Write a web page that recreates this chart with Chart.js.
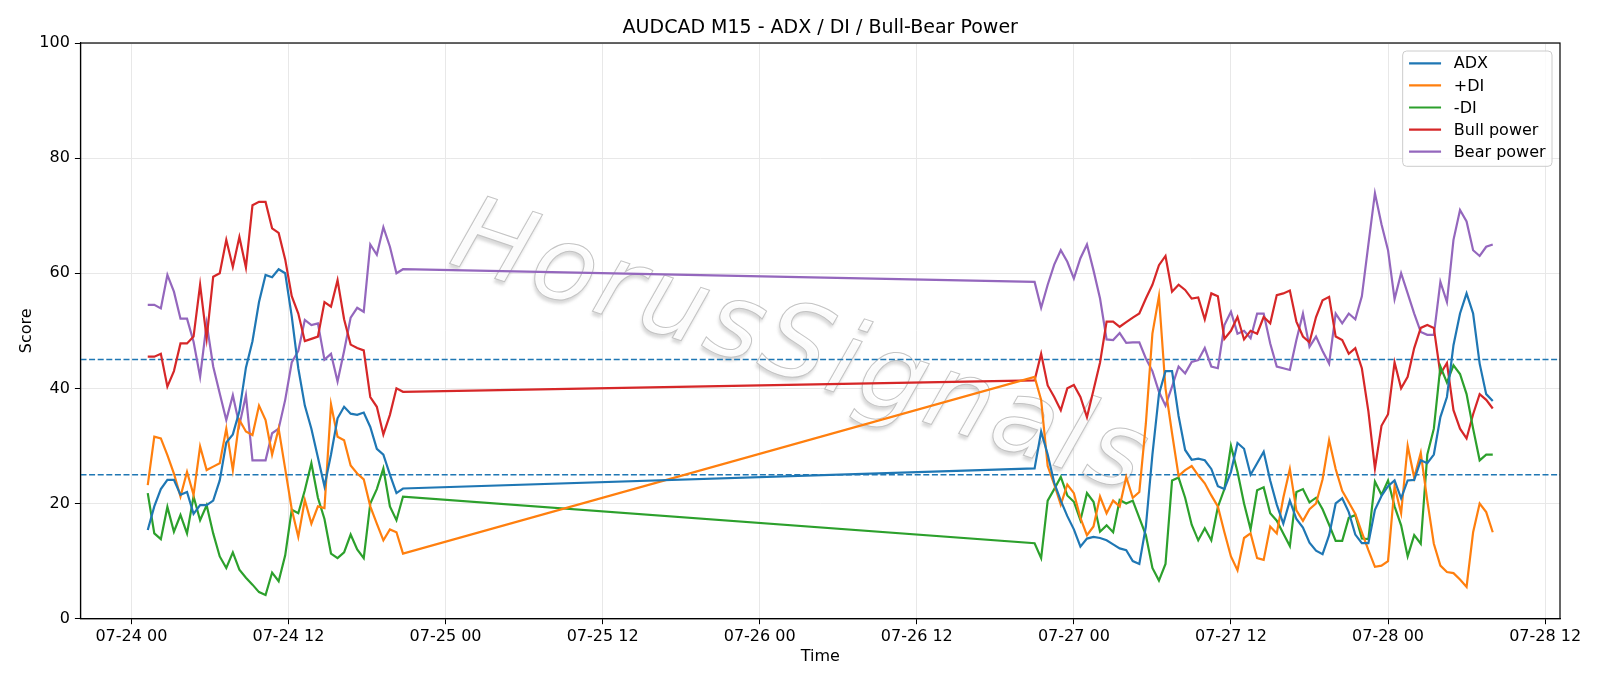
<!DOCTYPE html>
<html>
<head>
<meta charset="utf-8">
<script src="https://cdn.jsdelivr.net/npm/chart.js@4.4.1/dist/chart.umd.min.js"></script>
<style>
  html, body { margin: 0; padding: 0; background: #fff; }
  #wrap { width: 1600px; height: 686px; }
</style>
</head>
<body>
<div id="wrap"><canvas id="adxChart" width="1600" height="686"></canvas></div>
<script>
// hours counted from 07-24 00:00 (30 min samples, weekend gap in between)
const times = [
  1.25, 1.75, 2.25, 2.75, 3.25, 3.75, 4.25, 4.75, 5.25, 5.75,
  6.25, 6.75, 7.25, 7.75, 8.25, 8.75, 9.25, 9.75, 10.25, 10.75,
  11.25, 11.75, 12.25, 12.75, 13.25, 13.75, 14.25, 14.75, 15.25, 15.75,
  16.25, 16.75, 17.25, 17.75, 18.25, 18.75, 19.25, 19.75, 20.25, 20.75,
  69.0, 69.5, 70.0, 70.5, 71.0, 71.5, 72.0, 72.5, 73.0, 73.5,
  74.0, 74.5, 75.0, 75.5, 76.0, 76.5, 77.0, 77.5, 78.0, 78.5,
  79.0, 79.5, 80.0, 80.5, 81.0, 81.5, 82.0, 82.5, 83.0, 83.5,
  84.0, 84.5, 85.0, 85.5, 86.0, 86.5, 87.0, 87.5, 88.0, 88.5,
  89.0, 89.5, 90.0, 90.5, 91.0, 91.5, 92.0, 92.5, 93.0, 93.5,
  94.0, 94.5, 95.0, 95.5, 96.0, 96.5, 97.0, 97.5, 98.0, 98.5,
  99.0, 99.5, 100.0, 100.5, 101.0, 101.5, 102.0, 102.5, 103.0, 103.5,
  104.0
];

const adx = [
  15.4, 19.5, 22.5, 24.1, 24.1, 21.5, 22, 18.2, 19.7, 19.7,
  20.5, 24, 30.6, 32, 36, 43.6, 48.2, 55, 59.7, 59.3,
  60.7, 60, 52.5, 43.5, 37, 33, 28, 23, 28.5, 34.8,
  36.8, 35.6, 35.4, 35.8, 33.3, 29.5, 28.5, 25, 21.8, 22.6,
  26.1, 32.5, 28.5, 23.6, 20.5, 17.8, 15.5, 12.5, 13.9, 14.2,
  14, 13.6, 12.9, 12.2, 11.9, 10, 9.5, 16, 28.5, 39,
  43, 43, 35.2, 29.3, 27.6, 27.8, 27.5, 26, 23, 22.5,
  25.5, 30.5, 29.5, 25, 27, 29, 24, 19.8, 16.5, 20.5,
  17.3, 15.8, 13.2, 11.8, 11.2, 14.5, 20, 20.9, 18.5, 14.6,
  13.1, 13.1, 18.9, 21.3, 23, 24, 20.9, 24, 24.1, 27.5,
  27, 28.5, 35, 38.5, 47.5, 53, 56.5, 53, 44.3, 39,
  37.8
];

const plusDI = [
  23.2, 31.6, 31.3, 28.4, 25.2, 21.2, 25.5, 21.5, 29.9, 25.8,
  26.4, 27, 33, 25.8, 34.5, 32.5, 31.9, 37, 34.5, 28.5,
  33, 26, 19, 14.2, 20.6, 16.5, 19.5, 19.2, 37.2, 31.6,
  31, 26.6, 25.2, 24.2, 19.5, 16.5, 13.6, 15.5, 15, 11.3,
  42, 38, 26.5, 23.3, 19.8, 23.3, 21.8, 17.5, 14.5, 16,
  21.2, 18.3, 20.5, 19.5, 24.6, 21, 22, 33.9, 49.5, 56,
  40, 32.2, 24.8, 25.8, 26.5, 24.9, 23.5, 21.4, 19.5, 15,
  10.8, 8.4, 14, 14.8, 10.5, 10.2, 16, 14.8, 21, 26,
  18.8, 17, 19, 20, 24.2, 31, 26, 22.2, 20.2, 18.2,
  15, 11.9, 9, 9.2, 10, 23, 18.3, 30, 24.5, 28.8,
  20.5, 13, 9.2, 8.1, 7.9, 6.8, 5.5, 15, 20, 18.5,
  15
];

const minusDI = [
  21.8, 14.8, 13.8, 19.4, 15.1, 18, 14.8, 21.2, 17.1, 19.7,
  14.8, 10.8, 8.8, 11.5, 8.5, 7.1, 5.9, 4.6, 4.1, 8,
  6.5, 11, 18.9, 18.3, 22.3, 27, 21, 17.3, 11.3, 10.5,
  11.5, 14.6, 12, 10.5, 20, 22.5, 26.1, 19.5, 17.1, 21.2,
  13.1, 10.5, 20.5, 22.5, 24.6, 21.4, 20.3, 17.1, 21.8, 20.3,
  15.1, 16.2, 15, 20.6, 20, 20.5, 17.5, 14.5, 8.8, 6.6,
  9.5, 24, 24.5, 21, 16.3, 13.6, 15.7, 13.6, 19.4, 22.5,
  30, 25.5, 20, 15.5, 22.3, 22.8, 18.3, 17, 14.8, 12.6,
  22, 22.5, 20.2, 21, 19, 16.3, 13.5, 13.5, 17.5, 18,
  13.9, 13.8, 23.8, 21.5, 24, 19.5, 16.2, 10.8, 14.5, 13,
  28.5, 33, 43.8, 41, 44, 42.5, 39, 33, 27.5, 28.5,
  28.5
];

const bullPower = [
  45.5, 45.5, 46, 40.3, 43, 47.8, 47.8, 49, 58, 48.7,
  59.4, 60, 65.8, 61.1, 66.3, 61, 71.8, 72.4, 72.4, 67.8,
  67, 62.4, 56, 53, 48.2, 48.6, 49, 55, 54.2, 58.8,
  52, 47.6, 47, 46.6, 38.5, 36.8, 32, 35.4, 40, 39.4,
  41.4, 46, 40.5, 38.5, 36.2, 40, 40.6, 38.5, 35, 39.7,
  44.5, 51.6, 51.6, 50.7, 51.5, 52.3, 53, 55.6, 58, 61.4,
  63, 56.8, 58, 57.1, 55.6, 55.8, 52, 56.5, 56, 48.6,
  50, 52.4, 48.5, 50, 49.5, 52.4, 51.3, 56.2, 56.5, 57,
  51.6, 49, 48, 52.4, 55.3, 55.9, 49, 48.4, 46, 47,
  43.5, 36, 26.1, 33.5, 35.5, 44.5, 40, 42, 47, 50.5,
  51, 50.5, 42.5, 44.4, 36.2, 33, 31.3, 35.5, 39, 38,
  36.5
];

const bearPower = [
  54.5, 54.5, 53.9, 59.7, 56.8, 52.1, 52.1, 48.1, 42, 51.3,
  43.8, 39.1, 34.5, 38.8, 33.6, 38.8, 27.5, 27.5, 27.5, 32.2,
  33, 38, 44.5, 46.5, 51.9, 51, 51.3, 45, 46, 41.2,
  46.5, 52.3, 54, 53.3, 65, 63.2, 68, 64.6, 60, 60.7,
  58.5, 54, 58, 61.5, 64, 62, 59.1, 62.6, 65, 60.5,
  55.6, 48.5, 48.4, 49.6, 47.9, 48, 48, 45.2, 43, 39.4,
  37, 40.3, 43.8, 42.6, 44.6, 44.9, 47, 43.8, 43.5, 51,
  53.3, 49.5, 50, 48.7, 53, 53, 47.8, 43.8, 43.5, 43.2,
  48.4, 53, 47.2, 49, 46.5, 44.3, 53, 51.3, 53, 52,
  56, 65, 73.9, 68.5, 64, 55.5, 60, 56.5, 53, 49.8,
  49.3, 49.3, 58.5, 55, 65.8, 71, 69, 64, 63, 64.6,
  65
];

const levels = [25, 45];
const xTicks = [0, 12, 24, 36, 48, 60, 72, 84, 96, 108];

const FONT = 'DejaVu Sans';
Chart.defaults.font.family = FONT;
Chart.defaults.color = '#000';

// matplotlib style 5% margin on x
const span = times[times.length - 1] - times[0];
const xMin = times[0] - 0.05 * span;
const xMax = times[times.length - 1] + 0.05 * span;

function pts(vals) {
  return times.map((t, i) => ({ x: t, y: vals[i] }));
}

function fmtTime(h) {
  const day = 24 + Math.floor(h / 24);
  const hr = h % 24;
  return '07-' + day + ' ' + String(hr).padStart(2, '0');
}

const series = [
  { label: 'ADX', values: adx, color: '#1f77b4' },
  { label: '+DI', values: plusDI, color: '#ff7f0e' },
  { label: '-DI', values: minusDI, color: '#2ca02c' },
  { label: 'Bull power', values: bullPower, color: '#d62728' },
  { label: 'Bear power', values: bearPower, color: '#9467bd' }
];

const levelLines = {
  id: 'levelLines',
  beforeDatasetsDraw(chart) {
    const { ctx, chartArea, scales } = chart;
    ctx.save();
    ctx.strokeStyle = '#1f77b4';
    ctx.lineWidth = 1.5;
    ctx.setLineDash([6, 2.6]);
    levels.forEach(v => {
      const y = scales.y.getPixelForValue(v);
      ctx.beginPath();
      ctx.moveTo(chartArea.left, y);
      ctx.lineTo(chartArea.right, y);
      ctx.stroke();
    });
    ctx.restore();
  }
};

// watermark text, drawn under the lines
const watermark = {
  id: 'watermark',
  beforeDatasetsDraw(chart) {
    const { ctx } = chart;
    const text = 'HorusSignals';
    ctx.save();
    ctx.translate(800, 352);
    ctx.rotate(18.5 * Math.PI / 180);
    ctx.font = 'oblique 104px "' + FONT + '"';
    ctx.letterSpacing = '4px';
    ctx.textAlign = 'center';
    ctx.textBaseline = 'middle';
    ctx.save();
    ctx.filter = 'blur(1.5px)';
    ctx.fillStyle = 'rgba(120,120,120,0.28)';
    ctx.fillText(text, 0, 4);
    ctx.restore();
    ctx.fillStyle = 'rgba(255,255,255,0.88)';
    ctx.fillText(text, 0, 0);
    ctx.strokeStyle = 'rgba(190,190,190,0.9)';
    ctx.lineWidth = 1;
    ctx.strokeText(text, 0, 0);
    ctx.restore();
  }
};

const frameAndText = {
  id: 'frameAndText',
  afterDraw(chart) {
    const { ctx, chartArea: a } = chart;
    ctx.save();
    // spines
    ctx.strokeStyle = '#000';
    ctx.lineWidth = 1.2;
    ctx.strokeRect(a.left, a.top, a.right - a.left, a.bottom - a.top);

    // title
    ctx.fillStyle = '#000';
    ctx.font = '19px "' + FONT + '"';
    ctx.textAlign = 'center';
    ctx.textBaseline = 'alphabetic';
    ctx.fillText('AUDCAD M15 - ADX / DI / Bull-Bear Power', (a.left + a.right) / 2, a.top - 10);

    // legend
    const fs = 16, rowH = 22.1, pad = 6.4, handle = 32, gap = 12.8;
    ctx.font = fs + 'px "' + FONT + '"';
    const textW = Math.max(...series.map(s => ctx.measureText(s.label).width));
    const w = pad + handle + gap + textW + pad;
    const h = pad * 2 + rowH * series.length - 8;
    const x0 = a.right - 8 - w;
    const y0 = a.top + 8;
    ctx.fillStyle = 'rgba(255,255,255,0.8)';
    ctx.strokeStyle = '#cccccc';
    ctx.lineWidth = 1;
    ctx.beginPath();
    ctx.roundRect(x0, y0, w, h, 4);
    ctx.fill();
    ctx.stroke();
    ctx.textAlign = 'left';
    ctx.textBaseline = 'middle';
    series.forEach((s, i) => {
      const cy = y0 + 12.3 + i * rowH;
      ctx.strokeStyle = s.color;
      ctx.lineWidth = 2.2;
      ctx.beginPath();
      ctx.moveTo(x0 + pad, cy);
      ctx.lineTo(x0 + pad + handle, cy);
      ctx.stroke();
      ctx.fillStyle = '#000';
      ctx.fillText(s.label, x0 + pad + handle + gap, cy + 1);
    });
    ctx.restore();
  }
};

const ctx = document.getElementById('adxChart').getContext('2d');
const chart = new Chart(ctx, {
  type: 'line',
  data: {
    datasets: series.map(s => ({
      label: s.label,
      data: pts(s.values),
      borderColor: s.color,
      backgroundColor: s.color,
      borderWidth: 2.2,
      pointRadius: 0,
      tension: 0,
      fill: false
    }))
  },
  options: {
    responsive: false,
    animation: false,
    devicePixelRatio: 1,
    layout: { padding: { left: 0, right: 40, top: 43, bottom: 0 } },
    plugins: {
      legend: { display: false },
      title: { display: false },
      tooltip: { enabled: false }
    },
    scales: {
      x: {
        type: 'linear',
        min: xMin,
        max: xMax,
        afterBuildTicks: scale => { scale.ticks = xTicks.map(v => ({ value: v })); },
        afterFit: scale => { scale.height = 67.4; },
        ticks: {
          callback: v => fmtTime(v),
          font: { size: 16 },
          color: '#000',
          maxRotation: 0,
          autoSkip: false,
          padding: 3
        },
        grid: { color: '#e8e8e8', lineWidth: 1, tickColor: '#000', tickLength: 5.6 },
        border: { color: '#000', width: 1.2 },
        title: { display: true, text: 'Time', font: { size: 16 }, color: '#000', padding: { top: 0, bottom: 20 } }
      },
      y: {
        min: 0,
        max: 100,
        afterFit: scale => { scale.width = 80.5; },
        ticks: { stepSize: 20, font: { size: 16 }, color: '#000', padding: 5 },
        grid: { color: '#e8e8e8', lineWidth: 1, tickColor: '#000', tickLength: 5.6 },
        border: { color: '#000', width: 1.2 },
        title: { display: true, text: 'Score', font: { size: 16 }, color: '#000', padding: { top: 17, bottom: 0 } }
      }
    }
  },
  plugins: [watermark, levelLines, frameAndText]
});
</script>
</body>
</html>
